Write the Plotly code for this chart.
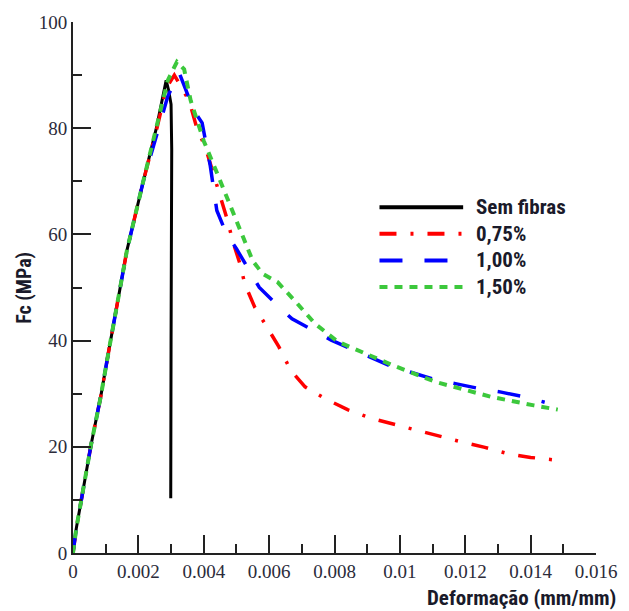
import plotly.graph_objects as go

# Stress-strain curves: strain (mm/mm) vs compressive stress Fc (MPa)
plain_strain = [0, 0.0001, 0.00055, 0.00085, 0.0011, 0.00135, 0.00165, 0.00215, 0.00255, 0.00285,
                0.00293, 0.00300, 0.00302, 0.00300, 0.00299]
plain_stress = [0, 4.6, 20.3, 29.5, 38.3, 46.6, 57, 70, 80, 89,
                87, 84.5, 76, 40, 10.3]

f075_strain = [0, 0.0001, 0.00055, 0.00085, 0.0011, 0.00135, 0.00165, 0.00215, 0.00255, 0.00285,
               0.0031, 0.00355, 0.0038, 0.00405, 0.0045, 0.0047, 0.0049, 0.0051, 0.00526, 0.00556,
               0.0059, 0.0063, 0.00666, 0.0071, 0.0077, 0.0084, 0.0091, 0.0097, 0.0104, 0.0112,
               0.0119, 0.0126, 0.0133, 0.0140, 0.01478]
f075_stress = [0, 4.6, 20.3, 29.5, 38.3, 46.6, 57, 70, 79.5, 87.5,
               90, 85.2, 79.8, 76.4, 67.6, 63.2, 58.5, 54.6, 50.6, 46.3,
               42.9, 38.8, 34.4, 31.3, 29.1, 27, 25.4, 24.4, 23.3, 22,
               20.9, 19.9, 18.7, 18, 17.5]

f100_strain = [0, 0.0001, 0.00055, 0.00085, 0.0011, 0.00135, 0.00165, 0.00215, 0.0027, 0.0029,
               0.00325, 0.0037, 0.00395, 0.0041, 0.0042, 0.0044, 0.0047, 0.0050, 0.0054, 0.0057,
               0.00626, 0.0067, 0.00736, 0.0079, 0.0086, 0.0091, 0.0098, 0.0103, 0.0111, 0.0117,
               0.0124, 0.0131, 0.0138, 0.01443]
f100_stress = [0, 4.6, 20.3, 29.5, 38.3, 46.6, 57, 70, 82, 86,
               90.4, 83.3, 81, 76.4, 72.9, 64.5, 60, 57.3, 53.2, 50,
               46.6, 44.1, 41.9, 40.1, 38.2, 36.9, 35, 34.1, 32.6, 31.9,
               31, 30.3, 29.4, 28.4]

f150_strain = [0, 0.0001, 0.00055, 0.00085, 0.0011, 0.00135, 0.00165, 0.00215, 0.00255, 0.0029,
               0.00318, 0.0034, 0.0036, 0.0040, 0.00435, 0.0047, 0.0051, 0.0055, 0.0058, 0.00626,
               0.0068, 0.0074, 0.0081, 0.0090, 0.0098, 0.0111, 0.0128, 0.0141, 0.01483]
f150_stress = [0, 4.6, 20.3, 29.5, 38.3, 46.6, 57, 70, 80, 89,
               92.5, 91.1, 85.2, 77.6, 72.4, 67, 60.7, 55, 52.6, 51,
               47.4, 43.2, 39.8, 37.4, 35.3, 32.2, 29.4, 27.8, 27]

series_names = ["Sem fibras", "0,75%", "1,00%", "1,50%"]
series_colors = ["#000000", "#ff0000", "#0000ff", "#3cc83c"]
series_dash = ["solid", "17px,14px,3px,14px", "23px,22px", "8px,7px"]
series_width = [3, 3.5, 3.5, 4]

x_tickvals = [0, 0.002, 0.004, 0.006, 0.008, 0.01, 0.012, 0.014, 0.016]
x_ticktext = ["0", "0.002", "0.004", "0.006", "0.008", "0.01", "0.012", "0.014", "0.016"]
y_tickvals = [0, 20, 40, 60, 80, 100]

all_x = [plain_strain, f075_strain, f100_strain, f150_strain]
all_y = [plain_stress, f075_stress, f100_stress, f150_stress]

fig = go.Figure()
for xs, ys, name, col, dash, w in zip(all_x, all_y, series_names, series_colors, series_dash, series_width):
    fig.add_trace(go.Scatter(x=xs, y=ys, mode="lines", name=name,
                             line=dict(color=col, dash=dash, width=w), showlegend=False))

label_font = "Liberation Sans Narrow, Roboto Condensed, Arial Narrow, Roboto, sans-serif"
tick_font = dict(family="Liberation Serif, Times New Roman, serif", size=19, color="#2b2b3a")

# Hand-placed legend: sample line segments plus labels
legend_y = [0.651, 0.601, 0.551, 0.501]
for name, col, dash, w, ly in zip(series_names, series_colors, series_dash, series_width, legend_y):
    fig.add_shape(type="line", xref="paper", yref="paper", x0=0.586, x1=0.746, y0=ly, y1=ly,
                  line=dict(color=col, dash=dash, width=4))
    fig.add_annotation(xref="paper", yref="paper", x=0.767, y=ly, text="<b>%s</b>" % name,
                       showarrow=False, xanchor="left", yanchor="middle",
                       font=dict(family=label_font, size=21, color="#1a1a2a"))

fig.add_annotation(xref="paper", yref="paper", x=-0.095, y=0.50, text="<b>Fc (MPa)</b>", textangle=-90,
                   showarrow=False, xanchor="center", yanchor="middle",
                   font=dict(family=label_font, size=20, color="#1a1a2a"))
fig.add_annotation(xref="paper", yref="paper", x=1.042, y=-0.085, text="<b>Deformação (mm/mm)</b>",
                   showarrow=False, xanchor="right", yanchor="middle",
                   font=dict(family=label_font, size=21, color="#1a1a2a"))

fig.update_layout(
    width=629, height=611,
    margin=dict(l=73, r=23, t=21, b=58),
    paper_bgcolor="white", plot_bgcolor="white",
    xaxis=dict(range=[0, 0.016], tickvals=x_tickvals, ticktext=x_ticktext,
               ticks="inside", ticklen=18, tickwidth=2, tickcolor="#222",
               minor=dict(ticks="inside", ticklen=9, dtick=0.001, tickwidth=2, tickcolor="#222", showgrid=False),
               showline=True, linecolor="#222", linewidth=2, showgrid=False, zeroline=False,
               tickfont=tick_font),
    yaxis=dict(range=[0, 100], tickvals=y_tickvals,
               ticks="inside", ticklen=18, tickwidth=2, tickcolor="#222",
               minor=dict(ticks="inside", ticklen=9, dtick=10, tickwidth=2, tickcolor="#222", showgrid=False),
               showline=True, linecolor="#222", linewidth=2, showgrid=False, zeroline=False,
               tickfont=tick_font),
)

fig.write_html("out.html")
